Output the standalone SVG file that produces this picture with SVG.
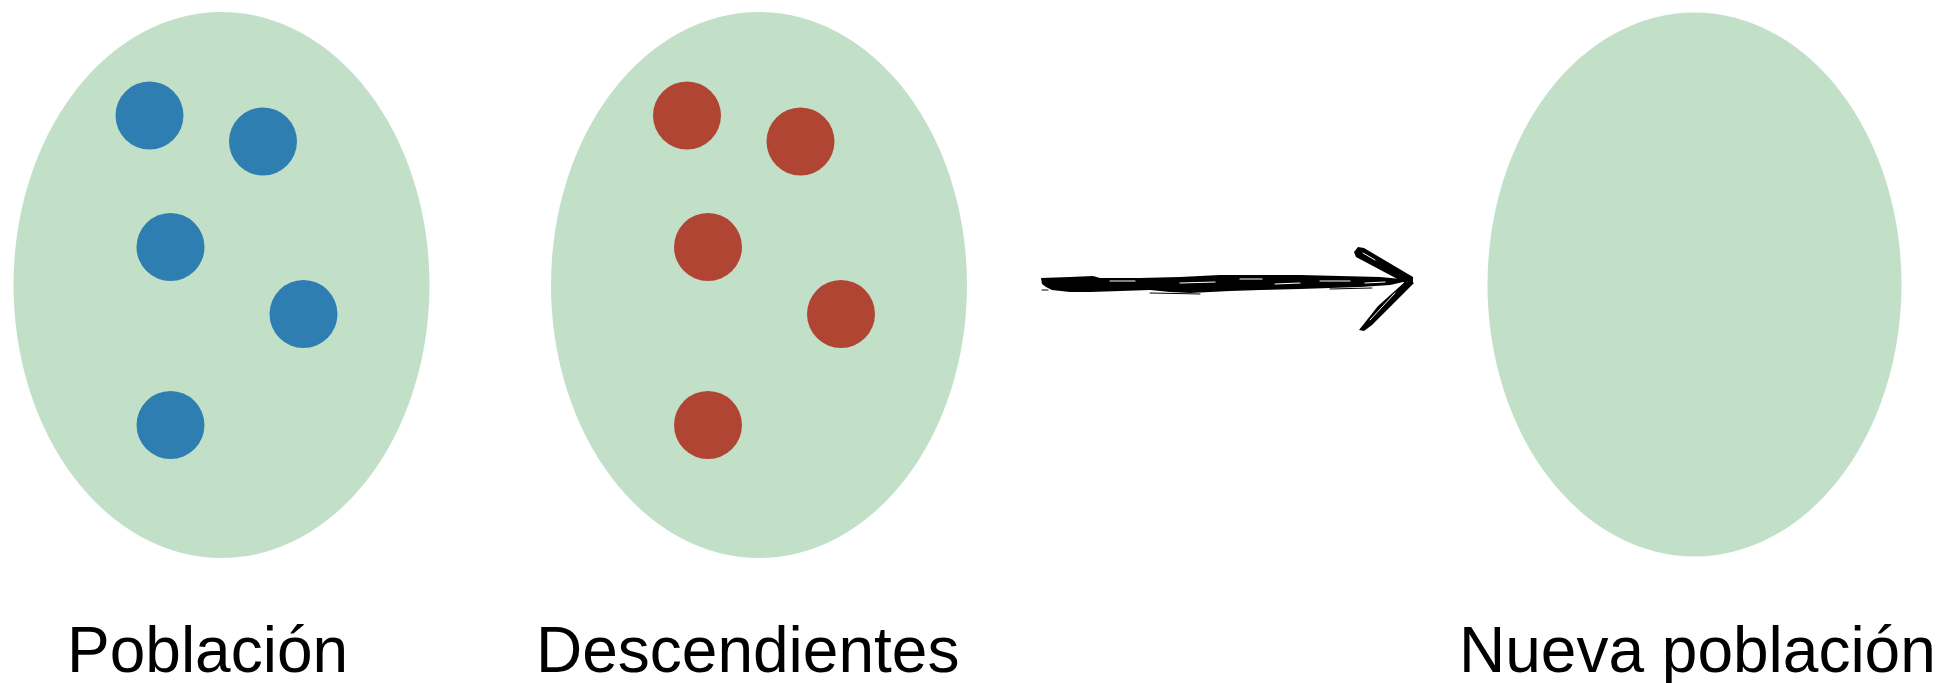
<svg xmlns="http://www.w3.org/2000/svg" width="1959" height="683" viewBox="0 0 1959 683">
<style>
.pop{fill:#c2e0c8}
.blue{fill:#2f7eb1}
.red{fill:#b04533}
.lbl{font-family:"Liberation Sans",Arial,sans-serif;font-size:64px;fill:#000}
.brush{fill:#000}
.fib{stroke:#000;fill:none;stroke-linecap:round}
.gap{stroke:#fff;fill:none;stroke-linecap:round}
</style>
<rect width="1959" height="683" fill="#fff"/>
<g id="poblacion">
<ellipse class="pop" cx="221.5" cy="285" rx="208" ry="273"/>
<circle class="blue" cx="149.5" cy="115.5" r="34"/>
<circle class="blue" cx="263" cy="141.5" r="34"/>
<circle class="blue" cx="170.5" cy="247" r="34"/>
<circle class="blue" cx="303.5" cy="314" r="34"/>
<circle class="blue" cx="170.5" cy="425" r="34"/>
<text class="lbl" x="67" y="672">Población</text>
</g>
<g id="descendientes">
<ellipse class="pop" cx="759" cy="285" rx="208" ry="273"/>
<circle class="red" cx="687" cy="115.5" r="34"/>
<circle class="red" cx="800.5" cy="141.5" r="34"/>
<circle class="red" cx="708" cy="247" r="34"/>
<circle class="red" cx="841" cy="314" r="34"/>
<circle class="red" cx="708" cy="425" r="34"/>
<text class="lbl" x="536" y="672">Descendientes</text>
</g>
<g id="nueva">
<ellipse class="pop" cx="1694.5" cy="284.5" rx="207" ry="272"/>
<text class="lbl" x="1459" y="672">Nueva población</text>
</g>
<g id="connectors">
<path class="brush" d="M1041,278 L1070,277 L1093,276 L1100,278 L1140,278 L1180,277 L1220,275 L1260,275 L1300,275 L1340,276 L1380,277 L1412,280 L1390,285 L1360,287 L1330,288 L1300,289 L1260,290 L1230,291 L1210,292 L1190,293 L1170,292 L1150,290 L1120,291 L1090,292 L1070,292 L1052,290 L1046,287 L1042,284 Z"/>
<path class="gap" stroke-width="1.2" d="M1110,281 L1135,281 M1180,283 L1215,282 M1240,279 L1262,279 M1275,284 L1300,283 M1320,281 L1350,281 M1365,283 L1385,282"/>
<path class="fib" stroke-width="1" d="M1042,290 L1048,290 M1150,293 L1200,294 M1330,289 L1372,288"/>
<path class="brush" d="M1354,252 L1358,247 L1364,248 L1413,277 L1413,284 L1405,283 L1356,257 Z"/>
<path class="brush" d="M1407,280 L1414,283 L1395,302 L1372,325 L1364,331 L1359,330 L1378,306 Z"/>
<path class="gap" stroke-width="1" d="M1395,293 L1370,320 M1363,253 L1375,260"/>
</g>
</svg>
